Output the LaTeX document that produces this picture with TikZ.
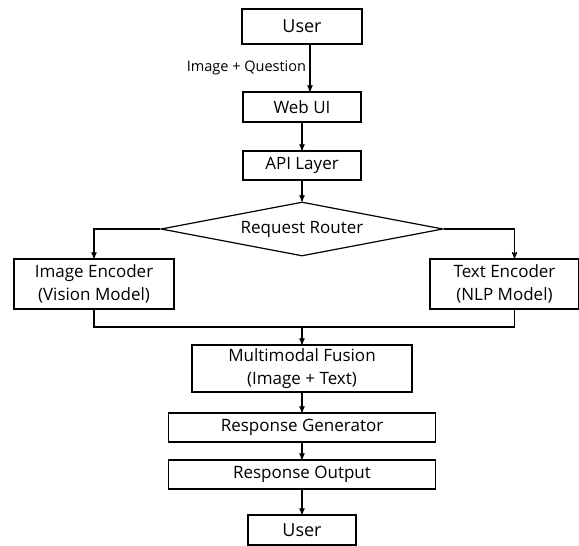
\documentclass[tikz,border=0pt]{standalone}
\usepackage{fontspec}
\setmainfont{Open Sans}
\usetikzlibrary{shapes.geometric, arrows, positioning}

\begin{document}
\begin{tikzpicture}[x=1pt, y=-1pt, >=stealth', line width=1.2pt,
    font=\fontsize{17}{22.5}\selectfont,
    block/.style={draw, rectangle, inner sep=0pt, align=center},
    decision/.style={draw, diamond, aspect=5.2, inner sep=0pt,
        minimum width=282pt, minimum height=54pt},
    bigtext/.style={font=\fontsize{18}{20}\selectfont}]
    \useasboundingbox (0,0) rectangle (579,546);

    % Input side
    \node[block, bigtext, minimum width=120pt, minimum height=35pt] (user) at (302,26.5) {User};
    \node[block, minimum width=118pt, minimum height=30pt] (webui) at (302,107) {Web UI};
    \node[block, minimum width=118pt, minimum height=29pt] (api) at (302,165.5) {API Layer};

    % Routing
    \node[decision] (router) at (302,229) {Request Router};

    % Encoders
    \node[block, minimum width=160pt, minimum height=50pt] (imgenc) at (94,284) {Image Encoder\\(Vision Model)};
    \node[block, minimum width=149pt, minimum height=50pt] (txtenc) at (504.5,284) {Text Encoder\\(NLP Model)};
    \coordinate (merge) at (302,327);

    % Output side
    \node[block, minimum width=220pt, minimum height=47pt] (fusion) at (302,368.5) {Multimodal Fusion\\(Image + Text)};
    \node[block, minimum width=267pt, minimum height=29pt] (respgen) at (302,427.5) {Response Generator};
    \node[block, minimum width=267pt, minimum height=29pt] (respout) at (302,474.5) {Response Output};
    \node[block, bigtext, minimum width=108pt, minimum height=30pt] (userout) at (302,530) {User};

    % Straight arrows
    \draw[->] ([xshift=8pt]user.south) -- node[left, font=\fontsize{14.5}{16}\selectfont] {Image + Question} ([xshift=8pt]webui.north);
    \path[->]
    (webui) edge (api)
    (api) edge (router)
    (merge) edge (fusion)
    (fusion) edge (respgen)
    (respgen) edge (respout)
    (respout) edge (userout);

    % Split and merge
    \draw[->] (router.west) -| (imgenc.north);
    \draw[->] (router.east) -| ([xshift=10pt]txtenc.north);
    \draw (imgenc.south) |- (merge) -| ([xshift=10pt]txtenc.south);
\end{tikzpicture}
\end{document}
